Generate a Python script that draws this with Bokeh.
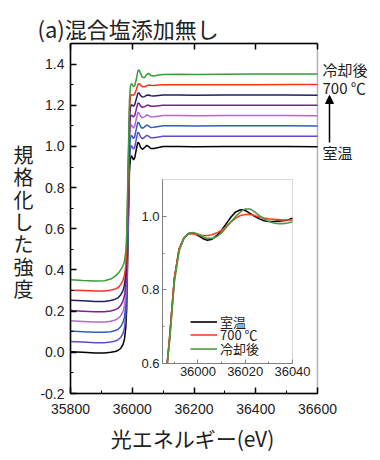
from bokeh.plotting import figure
from bokeh.models import (SingleIntervalTicker, FixedTicker, LinearAxis, Arrow, NormalHead,
                          NumeralTickFormatter, Range1d, BoxAnnotation, Legend, LegendItem)
from bokeh.core.properties import value
from bokeh.embed import file_html
from bokeh.resources import INLINE

# ---------------- data ----------------
energy = [35800, 35840, 35880, 35910, 35930, 35945, 35955, 35963, 35970, 35975,
          35979, 35982, 35985, 35988, 35991, 35994, 35997, 36000, 36004, 36008,
          36013, 36018, 36022, 36027, 36033, 36040, 36047, 36053, 36060, 36070,
          36085, 36100, 36150, 36200, 36300, 36400, 36500, 36600]

s_room = [0.003, 0.000, -0.003, -0.003, 0.000, 0.004, 0.010, 0.020, 0.038, 0.065,
          0.12, 0.21, 0.44, 0.67, 0.88, 0.94, 0.955, 0.948, 0.935, 0.945,
          0.985, 1.02, 1.015, 0.995, 0.986, 0.995, 1.005, 1.0, 0.99, 0.99,
          0.995, 1.0, 1.0, 0.998, 1.0, 1.0, 1.0, 0.998]
s_step1 = [0.053, 0.050, 0.047, 0.047, 0.050, 0.055, 0.062, 0.073, 0.092, 0.12,
           0.175, 0.265, 0.49, 0.72, 0.93, 0.99, 1.005, 0.998, 0.987, 0.996,
           1.034, 1.068, 1.064, 1.046, 1.037, 1.045, 1.054, 1.05, 1.042, 1.042,
           1.046, 1.05, 1.05, 1.049, 1.05, 1.05, 1.05, 1.049]
s_step2 = [0.103, 0.100, 0.097, 0.097, 0.100, 0.106, 0.113, 0.125, 0.145, 0.173,
           0.228, 0.318, 0.54, 0.77, 0.98, 1.04, 1.055, 1.049, 1.038, 1.047,
           1.084, 1.117, 1.113, 1.096, 1.088, 1.095, 1.104, 1.1, 1.092, 1.093,
           1.097, 1.1, 1.1, 1.099, 1.1, 1.1, 1.1, 1.099]
s_step3 = [0.153, 0.150, 0.147, 0.147, 0.151, 0.157, 0.165, 0.178, 0.198, 0.226,
           0.28, 0.37, 0.59, 0.82, 1.03, 1.09, 1.105, 1.099, 1.089, 1.098,
           1.133, 1.165, 1.162, 1.146, 1.139, 1.145, 1.153, 1.15, 1.143, 1.144,
           1.147, 1.15, 1.15, 1.149, 1.15, 1.15, 1.15, 1.149]
s_step4 = [0.203, 0.200, 0.197, 0.197, 0.201, 0.207, 0.215, 0.229, 0.249, 0.277,
           0.33, 0.42, 0.64, 0.87, 1.08, 1.14, 1.153, 1.149, 1.143, 1.15,
           1.18, 1.21, 1.21, 1.196, 1.19, 1.193, 1.2, 1.2, 1.195, 1.195,
           1.198, 1.2, 1.2, 1.2, 1.2, 1.2, 1.2, 1.2]
s_step5 = [0.253, 0.250, 0.247, 0.247, 0.252, 0.258, 0.266, 0.28, 0.30, 0.328,
           0.38, 0.47, 0.69, 0.92, 1.13, 1.19, 1.203, 1.2, 1.195, 1.203,
           1.23, 1.258, 1.26, 1.247, 1.24, 1.242, 1.249, 1.25, 1.246, 1.245,
           1.248, 1.25, 1.25, 1.249, 1.25, 1.25, 1.25, 1.249]
s_700 = [0.302, 0.300, 0.298, 0.298, 0.302, 0.308, 0.315, 0.33, 0.35, 0.375,
         0.42, 0.50, 0.74, 0.97, 1.18, 1.24, 1.252, 1.25, 1.248, 1.255,
         1.275, 1.30, 1.305, 1.298, 1.29, 1.29, 1.295, 1.298, 1.297, 1.296,
         1.298, 1.3, 1.3, 1.3, 1.3, 1.3, 1.301, 1.301]
s_cooled = [0.352, 0.349, 0.347, 0.348, 0.356, 0.37, 0.385, 0.402, 0.42, 0.445,
            0.49, 0.57, 0.79, 1.01, 1.225, 1.29, 1.305, 1.302, 1.29, 1.295,
            1.325, 1.365, 1.372, 1.355, 1.335, 1.335, 1.35, 1.355, 1.345, 1.342,
            1.347, 1.35, 1.351, 1.35, 1.351, 1.352, 1.352, 1.352]

main_series = [s_room, s_step1, s_step2, s_step3, s_step4, s_step5, s_700, s_cooled]
main_colors = ["#000000", "#5f4bc8", "#2e5cc4", "#b567d0", "#7d1f96", "#1f1f66",
               "#ff3020", "#3a9b3a"]

inset_energy = [35987, 35988, 35990, 35992, 35994, 35996, 35998, 36000, 36002, 36004,
                36006, 36008, 36010, 36012, 36014, 36016, 36018, 36020, 36022, 36024,
                36026, 36028, 36030, 36032, 36034, 36036, 36038, 36040]
in_room = [0.60, 0.67, 0.83, 0.91, 0.94, 0.953, 0.955, 0.948, 0.94, 0.935,
           0.938, 0.948, 0.962, 0.98, 0.998, 1.012, 1.018, 1.016, 1.008, 1.0,
           0.993, 0.988, 0.986, 0.986, 0.987, 0.988, 0.99, 0.995]
in_700 = [0.60, 0.67, 0.83, 0.91, 0.94, 0.952, 0.952, 0.95, 0.948, 0.948,
          0.95, 0.955, 0.962, 0.972, 0.985, 0.995, 1.002, 1.005, 1.005, 1.002,
          0.998, 0.995, 0.993, 0.992, 0.991, 0.99, 0.99, 0.99]
in_cooled = [0.60, 0.66, 0.82, 0.905, 0.94, 0.953, 0.956, 0.952, 0.945, 0.94,
             0.94, 0.945, 0.955, 0.97, 0.985, 1.0, 1.012, 1.02, 1.02, 1.012,
             1.002, 0.993, 0.986, 0.982, 0.98, 0.98, 0.982, 0.985]
inset_labels = ["室温", "700 ℃", "冷却後"]
inset_colors = ["#000000", "#ff4020", "#4a9a40"]

x_ticks = [35800, 36000, 36200, 36400, 36600]
title_text = "(a)混合塩添加無し"
xlabel_text = "光エネルギー(eV)"
ylabel_text = "規格化した強度"
side_texts = ["冷却後", "700 ℃", "室温"]

CJK = "Noto Sans CJK JP"
NUM = "Liberation Sans"

# ---------------- layout constants (pixels on the 380x460 canvas) ----------------
W, H = 380, 460
FL, FR, FT, FB = 70, 317, 43, 393          # main plot box
IL, IR, IT, IB = 162, 292, 179, 363        # inset box
X0, X1, Y0, Y1 = 35800, 36600, -0.2, 1.5   # main axis limits
IX0, IX1, IY0, IY1 = 35985, 36040, 0.6, 1.1  # inset axis limits
LEGEND_X, LEGEND_Y = 190, [129, 116, 102]    # one legend row each (offset from bottom-left)


def spread(a0, a1, p0, p1, total, flip=False):
    s = (a1 - a0) / (p1 - p0)
    if flip:   # pixel grows downward, value grows upward
        return Range1d(a0 - (total - p1) * s, a1 + p0 * s)
    return Range1d(a0 - p0 * s, a1 + (total - p1) * s)


p = figure(width=W, height=H,
           x_range=spread(X0, X1, FL, FR, W), y_range=spread(Y0, Y1, FT, FB, H, flip=True),
           output_backend="svg", toolbar_location=None, min_border=0)
p.extra_x_ranges = {"ix": spread(IX0, IX1, IL, IR, W), "px": Range1d(0, W)}
p.extra_y_ranges = {"iy": spread(IY0, IY1, IT, IB, H, flip=True), "px": Range1d(H, 0)}
p.grid.visible = False
p.outline_line_color = None
p.background_fill_color = "white"
p.border_fill_color = "white"

# main box
p.add_layout(BoxAnnotation(left=X0, right=X1, bottom=Y0, top=Y1, fill_alpha=0,
                           line_color="black", line_width=1.5, level="underlay"))

for ys, c in zip(main_series, main_colors):
    p.line(energy, ys, line_color=c, line_width=1.5)

# main axes
p.xaxis.ticker = SingleIntervalTicker(interval=200, num_minor_ticks=2)
p.yaxis.ticker = SingleIntervalTicker(interval=0.2, num_minor_ticks=2)
p.yaxis.formatter = NumeralTickFormatter(format="0.0")
p.xaxis.fixed_location = Y0
p.xaxis.bounds = (X0, X1)
p.yaxis.fixed_location = X0
p.yaxis.bounds = (Y0, Y1)
for ax in (p.xaxis[0], p.yaxis[0]):
    ax.axis_line_width = 1.5
    ax.axis_line_color = "black"
    ax.major_tick_in = 6
    ax.major_tick_out = 0
    ax.minor_tick_in = 3
    ax.minor_tick_out = 0
    ax.major_tick_line_width = 1.5
    ax.major_label_text_font = NUM
    ax.major_label_text_font_size = "14px"
    ax.major_label_text_color = "#222222"
p.xaxis.major_label_standoff = 10
p.yaxis.major_label_standoff = 6

top_axis = LinearAxis(ticker=FixedTicker(ticks=x_ticks),
                      major_label_overrides={t: "" for t in x_ticks},
                      fixed_location=Y1, bounds=(X0, X1),
                      axis_line_width=1.5, major_tick_in=6, major_tick_out=0,
                      major_tick_line_width=1.5, minor_tick_line_color=None)
p.add_layout(top_axis, "above")

# ---------------- inset ----------------
p.add_layout(BoxAnnotation(left=IX0, right=IX1, bottom=IY0, top=IY1,
                           x_range_name="ix", y_range_name="iy",
                           fill_color="white", fill_alpha=1,
                           line_color="#808080", line_width=1, level="underlay"))
inset_renderers = []
for ys, c in zip([in_room, in_700, in_cooled], inset_colors):
    r = p.line(inset_energy, ys, line_color=c, line_width=1.6,
               x_range_name="ix", y_range_name="iy")
    inset_renderers.append(r)

ins_x = LinearAxis(x_range_name="ix", y_range_name="iy", fixed_location=IY0, bounds=(IX0, IX1),
                   ticker=FixedTicker(ticks=[36000, 36020, 36040], minor_ticks=[35990, 36010, 36030]))
ins_y = LinearAxis(x_range_name="ix", y_range_name="iy", fixed_location=IX0, bounds=(IY0, IY1),
                   ticker=FixedTicker(ticks=[0.6, 0.8, 1.0], minor_ticks=[0.7, 0.9]),
                   formatter=NumeralTickFormatter(format="0.0"))
for ax in (ins_x, ins_y):
    ax.axis_line_color = "#808080"
    ax.major_tick_line_color = "#808080"
    ax.minor_tick_line_color = "#808080"
    ax.major_tick_in = 4
    ax.major_tick_out = 0
    ax.minor_tick_in = 2
    ax.minor_tick_out = 0
    ax.major_label_text_font = NUM
    ax.major_label_text_font_size = "13px"
    ax.major_label_text_color = "#222222"
    ax.major_label_standoff = 3
p.add_layout(ins_x, "below")
p.add_layout(ins_y, "left")

# legend: one single-row legend per item so the rows sit as close as in the original
for lab, r, ly in zip(inset_labels, inset_renderers, LEGEND_Y):
    lg = Legend(items=[LegendItem(label=lab, renderers=[r])], location=(LEGEND_X, ly),
                padding=0, margin=0, spacing=0, label_height=13, glyph_height=13,
                glyph_width=27, label_standoff=3, label_text_font=CJK,
                label_text_font_size="13px", label_text_color="#222222",
                background_fill_alpha=0, border_line_alpha=0)
    p.add_layout(lg)

# ---------------- texts (canvas-pixel coordinates) ----------------
txt = dict(x_range_name="px", y_range_name="px", text_font=value(CJK),
           text_baseline="middle", text_color="#222222")
p.text(x=[37], y=[27], text=[title_text], text_font_size=value("22px"), text_align="left", **txt)
p.text(x=[192], y=[437], text=[xlabel_text], text_font_size=value("21px"), text_align="center", **txt)
p.text(x=[23] * len(ylabel_text), y=[154, 176, 199, 221, 243, 266, 288], text=list(ylabel_text),
       text_font_size=value("20px"), text_align="center", **txt)
p.text(x=[322, 322, 322], y=[69, 87, 152], text=side_texts,
       text_font_size=value("15px"), text_align="left", **txt)
p.add_layout(Arrow(end=NormalHead(size=8, fill_color="black", line_color="black"),
                   x_start=329, y_start=142, x_end=329, y_end=95,
                   x_range_name="px", y_range_name="px",
                   line_width=1.5, line_color="black"))

open("out.html", "w").write(file_html(p, INLINE))
